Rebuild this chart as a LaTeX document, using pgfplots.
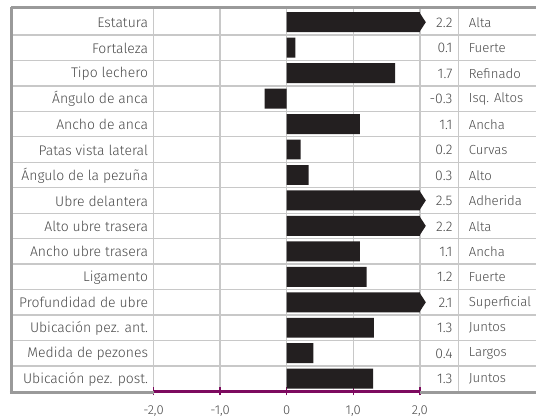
\documentclass[border=0pt]{standalone}
\usepackage{fontspec}
\setmainfont{Fira Sans Light}
\usepackage{pgfplots}
\usepackage{pgfplotstable}
\pgfplotsset{compat=1.18}
\definecolor{barblack}{HTML}{231F20}
\definecolor{gridgray}{HTML}{C8C8C8}
\definecolor{framegray}{HTML}{9A9A9A}
\definecolor{txtgray}{HTML}{4A4A4A}
\definecolor{axpurple}{RGB}{125,10,95}
\pgfdeclareplotmark{tip}{%
  \pgfpathmoveto{\pgfpoint{-0.5pt}{10pt}}%
  \pgfpathlineto{\pgfpoint{6pt}{0pt}}%
  \pgfpathlineto{\pgfpoint{-0.5pt}{-10pt}}%
  \pgfpathclose\pgfusepathqfill}
\pgfplotstableread[col sep=comma]{
y,name,bar,val,desc
1,Estatura,2.0,2.2,Alta
2,Fortaleza,0.13,0.1,Fuerte
3,Tipo lechero,1.63,1.7,Refinado
4,Ángulo de anca,-0.33,-0.3,Isq. Altos
5,Ancho de anca,1.1,1.1,Ancha
6,Patas vista lateral,0.21,0.2,Curvas
7,Ángulo de la pezuña,0.33,0.3,Alto
8,Ubre delantera,2.0,2.5,Adherida
9,Alto ubre trasera,2.0,2.2,Alta
10,Ancho ubre trasera,1.1,1.1,Ancha
11,Ligamento,1.2,1.2,Fuerte
12,Profundidad de ubre,2.0,2.1,Superficial
13,Ubicación pez. ant.,1.31,1.3,Juntos
14,Medida de pezones,0.4,0.4,Largos
15,Ubicación pez. post.,1.3,1.3,Juntos
}\data
\begin{document}
\begin{tikzpicture}
\begin{axis}[
  scale only axis, width=267pt, height=383pt,
  xmin=-2, xmax=2, ymin=0.5, ymax=15.5, y dir=reverse,
  clip=false,
  axis x line*=bottom, axis y line*=left,
  x axis line style={axpurple, line width=3pt, -},
  y axis line style={draw=none},
  xtick={-2,-1,0,1,2},
  xticklabels={{-2,0},{-1,0},0,{1,0},{2,0}},
  xtick align=center,
  major tick length=8pt,
  xtick style={axpurple, line width=1.5pt},
  xticklabel style={text=txtgray, font=\fontsize{13}{15}\selectfont, yshift=-6.5pt},
  ytick={1,...,15},
  yticklabels from table={\data}{name},
  ytick style={draw=none},
  yticklabel style={text=txtgray, font=\fontsize{14}{16}\selectfont, xshift=-2pt, yshift=-0.5pt},
  xmajorgrids, grid style={gridgray, line width=1.5pt},
]
% frame and table lines
\path (axis cs:-4.307,0.128) rectangle (axis cs:3.738,16.42);
\pgfplotsinvokeforeach{1.5,2.5,...,14.5}{
  \draw[gridgray, line width=1.3pt] (axis cs:-4.11,#1) -- (axis cs:3.738,#1);
}
\draw[gridgray, line width=1.5pt] (axis cs:2.584,0.5) -- (axis cs:2.584,15.5);
\draw[framegray, line width=3pt] (axis cs:-4.135,0.42) -- (axis cs:3.738,0.42);
\draw[framegray, line width=3pt] (axis cs:-4.135,0.42) -- (axis cs:-4.135,15.56);
\draw[framegray, line width=3pt] (axis cs:-4.157,15.56) -- (axis cs:-2,15.56);
\draw[framegray, line width=3pt] (axis cs:2,15.56) -- (axis cs:3.738,15.56);
% bars
\addplot[xbar, bar width=20pt, fill=barblack, draw=none] table[x=bar, y=y] {\data};
\addplot[only marks, mark=tip, mark options={fill=barblack, draw=none}] coordinates {(2,1) (2,8) (2,9) (2,12)};
% value column
\addplot[draw=none, mark=none, nodes near coords, point meta=explicit symbolic,
  nodes near coords style={anchor=east, text=txtgray, font=\fontsize{14}{16}\selectfont, inner sep=0pt, yshift=-0.5pt}]
  table[x expr=2.494, y=y, meta=val] {\data};
% description column
\addplot[draw=none, mark=none, nodes near coords, point meta=explicit symbolic,
  nodes near coords style={anchor=west, text=txtgray, font=\fontsize{13.2}{16}\selectfont, inner sep=0pt, yshift=-0.5pt}]
  table[x expr=2.734, y=y, meta=desc] {\data};
\end{axis}
\end{tikzpicture}
\end{document}
